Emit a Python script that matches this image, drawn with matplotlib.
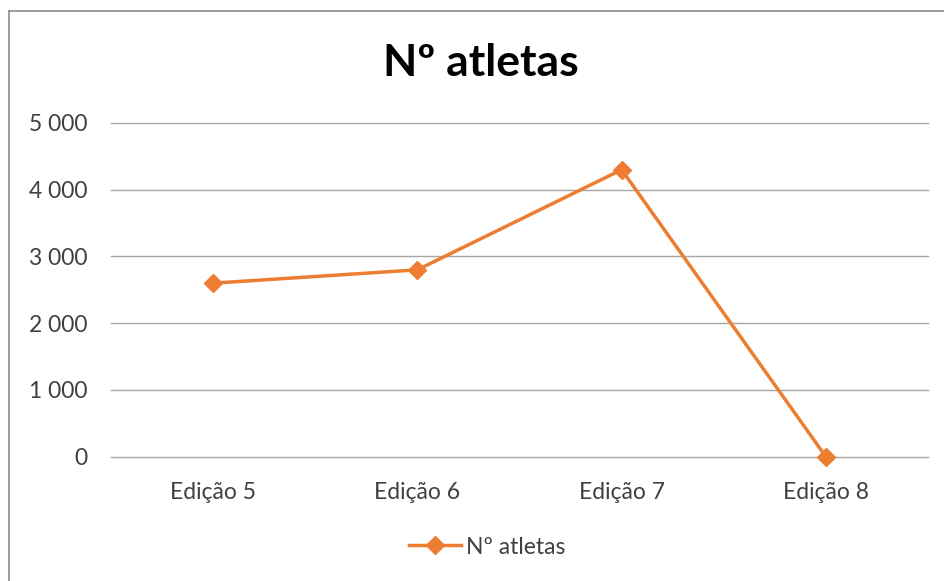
import matplotlib
matplotlib.use("Agg")
import matplotlib.pyplot as plt
from matplotlib.ticker import FuncFormatter
from matplotlib.lines import Line2D

categories = ["Edição 5", "Edição 6", "Edição 7", "Edição 8"]
values = [2600, 2800, 4300, 0]
yticks = [0, 1000, 2000, 3000, 4000, 5000]
series_name = "Nº atletas"
title = "Nº atletas"

plt.rcParams['font.family'] = ['Lato', 'DejaVu Sans']
W, H = 944, 581
fig = plt.figure(figsize=(W / 100, H / 100), dpi=100)
fig.patch.set_facecolor("white")

ax = fig.add_axes([111 / W, 1 - 456.7 / H, (928 - 111) / W, (456.7 - 123) / H])
x = list(range(len(categories)))
color = "#ED7D31"
ax.plot(x, values, color=color, lw=2.5, marker="D", markersize=9, label=series_name,
        solid_joinstyle="round", zorder=3, clip_on=False)
ax.set_xlim(-0.5, len(categories) - 0.5)
ax.set_ylim(0, 5000)
ax.set_yticks(yticks)
ax.yaxis.set_major_formatter(FuncFormatter(lambda v, p: f"{int(v):,}".replace(",", " ")))
ax.set_xticks(x)
ax.set_xticklabels(categories)
ax.grid(axis="y", color="#A6A6A6", lw=1.0)
for gl in ax.get_ygridlines():
    gl.set_clip_on(False)
ax.set_axisbelow(True)
for s in ax.spines.values():
    s.set_visible(False)
ax.tick_params(axis="both", length=0, labelsize=16.5, colors="#404040", labelcolor="#404040")
ax.tick_params(axis="y", pad=17)
ax.tick_params(axis="x", pad=18)

fig.text(481 / W, 1 - 63 / H, title, ha="center", va="center", fontsize=32, fontweight="bold", color="black")

leg = fig.legend(loc="center", bbox_to_anchor=(487 / W, 1 - 547 / H), frameon=False,
                 fontsize=16.5, handlelength=2.3, handletextpad=0.2, labelcolor="#404040")

# outer border
bc = "#8C8C8C"
fig.add_artist(Line2D([9 / W, 9 / W], [0, 1 - 11 / H], color=bc, lw=1.2, transform=fig.transFigure))
fig.add_artist(Line2D([9 / W, 1], [1 - 11 / H, 1 - 11 / H], color=bc, lw=1.2, transform=fig.transFigure))

fig.savefig("out.png", dpi=100)
